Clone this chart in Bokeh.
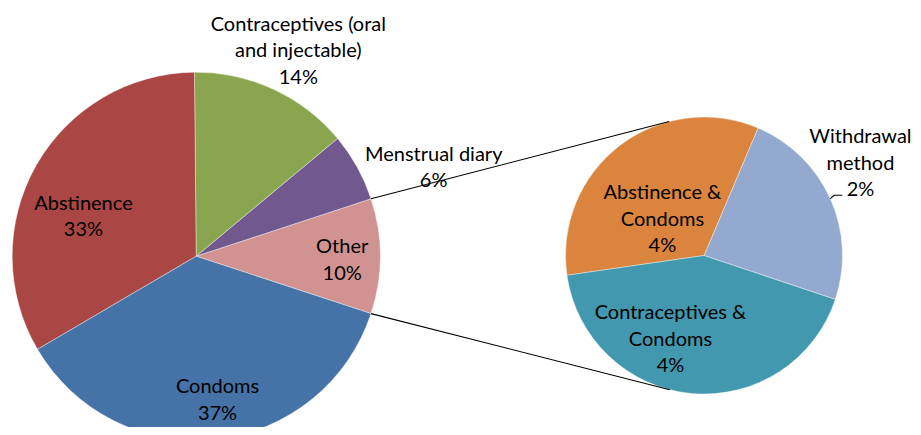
import math
from bokeh.plotting import figure
from bokeh.models import Range1d, ColumnDataSource
from bokeh.core.properties import value
from bokeh.embed import file_html
from bokeh.resources import INLINE

# ---------------- data ----------------
main_categories = ["Other", "Menstrual diary", "Contraceptives (oral\nand injectable)", "Abstinence", "Condoms"]
main_shares = [10.1, 6.0, 14.1, 33.3, 36.5]
main_pct_labels = ["10%", "6%", "14%", "33%", "37%"]

sub_categories = ["Withdrawal\nmethod", "Abstinence &\nCondoms", "Contraceptives &\nCondoms"]
sub_shares = [2.4, 3.4, 4.3]
sub_pct_labels = ["2%", "4%", "4%"]

# ---------------- styles / layout ----------------
main_colors = ["#D19392", "#71588F", "#89A54E", "#AA4643", "#4572A7"]
sub_colors = ["#93A9CF", "#DB843D", "#4198AF"]

H = 435.0
def Y(ref_y):
    return H - ref_y

MAIN_C = (195.7, Y(255.7))
MAIN_R = 184.0
SUB_C = (703.5, Y(255.0))
SUB_R = 138.5
SUB_START = math.radians(-18.5)

# label placement: (radius px, angular offset from slice middle in degrees)
main_label_place = [(146, -1.0), (254, -8.2), (231, -1.4), (120, 9.5), (144, 2.4)]
sub_label_place = [(182.5, 6.7), (56, 10.3), (88.6, -17.1)]
LINE_SPACING = 26.5
FONT = "Lato"
FONT_SIZE = "20px"

W_FIG, H_FIG = 913, 427

p = figure(width=W_FIG, height=H_FIG, x_range=Range1d(0, W_FIG), y_range=Range1d(H - H_FIG, H),
           output_backend="svg", toolbar_location=None, min_border=0)
p.axis.visible = False
p.grid.visible = False
p.outline_line_color = None
p.background_fill_color = "white"
p.border_fill_color = "white"

def wedge_angles(shares, start):
    total = sum(shares)
    starts, ends = [], []
    a = start
    for s in shares:
        e = a + 2 * math.pi * s / total
        starts.append(a)
        ends.append(e)
        a = e
    return starts, ends

main_start = -math.pi * main_shares[0] / sum(main_shares)
m_starts, m_ends = wedge_angles(main_shares, main_start)
s_starts, s_ends = wedge_angles(sub_shares, SUB_START)

p.wedge(x=[MAIN_C[0]] * len(main_shares), y=[MAIN_C[1]] * len(main_shares), radius=MAIN_R,
        start_angle=m_starts, end_angle=m_ends, fill_color=main_colors,
        line_color="white", line_width=0.4)
p.wedge(x=[SUB_C[0]] * len(sub_shares), y=[SUB_C[1]] * len(sub_shares), radius=SUB_R,
        start_angle=s_starts, end_angle=s_ends, fill_color=sub_colors,
        line_color="white", line_width=0.4)

# connector lines (main "Other" edges -> tangent points of secondary pie)
def tangent_point(P, C, r, sign):
    dx, dy = P[0] - C[0], P[1] - C[1]
    d = math.hypot(dx, dy)
    phi = math.atan2(dy, dx)
    t = phi + sign * math.acos(r / d)
    return (C[0] + r * math.cos(t), C[1] + r * math.sin(t))

for ang, sign in ((m_ends[0], -1), (m_starts[0], 1)):
    P = (MAIN_C[0] + MAIN_R * math.cos(ang), MAIN_C[1] + MAIN_R * math.sin(ang))
    T = tangent_point(P, SUB_C, SUB_R, sign)
    p.line([P[0], T[0]], [P[1], T[1]], line_color="black", line_width=1.1)

# labels
xs, ys, texts = [], [], []
def add_label(center, radius, start, end, place, cat, pct):
    r, off = place
    mid = (start + end) / 2 + math.radians(off)
    cx = center[0] + r * math.cos(mid)
    cy = center[1] + r * math.sin(mid)
    lines = cat.split("\n") + [pct]
    n = len(lines)
    for i, ln in enumerate(lines):
        xs.append(cx)
        ys.append(cy + ((n - 1) / 2 - i) * LINE_SPACING)
        texts.append(ln)

for i in range(len(main_shares)):
    add_label(MAIN_C, MAIN_R, m_starts[i], m_ends[i], main_label_place[i], main_categories[i], main_pct_labels[i])
for i in range(len(sub_shares)):
    add_label(SUB_C, SUB_R, s_starts[i], s_ends[i], sub_label_place[i], sub_categories[i], sub_pct_labels[i])

# leader line for the withdrawal slice
w_mid = (s_starts[0] + s_ends[0]) / 2
lx0 = SUB_C[0] + SUB_R * math.cos(w_mid)
ly0 = SUB_C[1] + SUB_R * math.sin(w_mid)
p.line([lx0, lx0 + 4, lx0 + 12], [ly0, ly0 + 3.3, ly0 + 3.3], line_color="black", line_width=1.1)

src = ColumnDataSource(dict(x=xs, y=ys, text=texts))
p.text(x="x", y="y", text="text", source=src, text_align="center", text_baseline="middle",
       text_font=value(FONT), text_font_size=FONT_SIZE, text_color="black")

open("out.html", "w").write(file_html(p, INLINE))
